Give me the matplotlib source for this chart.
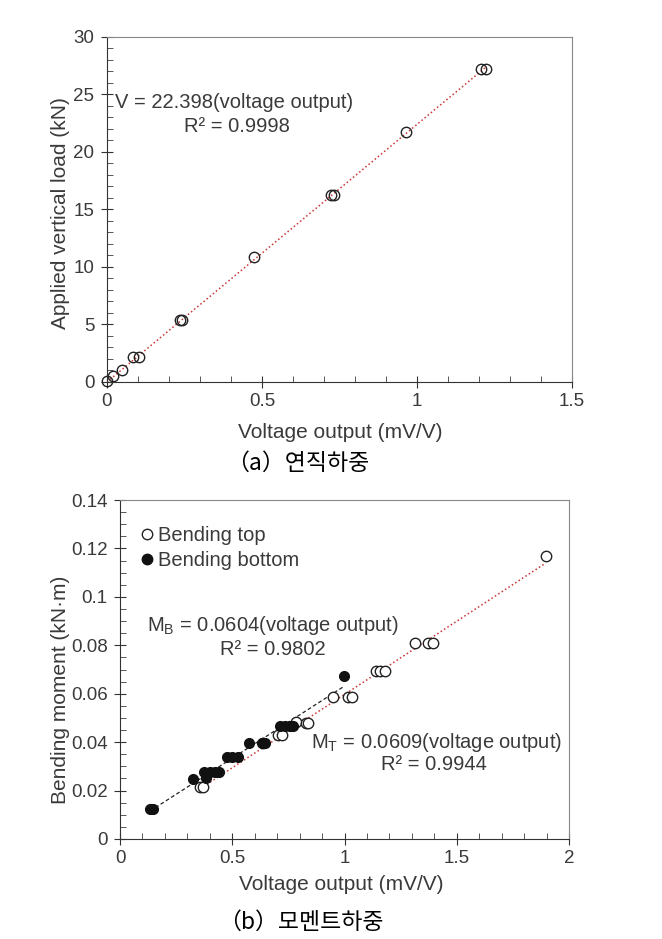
import numpy as np
import matplotlib
matplotlib.use("Agg")
import matplotlib.pyplot as plt
from matplotlib.lines import Line2D
from matplotlib.ticker import MultipleLocator

plt.rcParams['font.family'] = ['Liberation Sans', 'DejaVu Sans']
plt.rcParams['mathtext.fontset'] = 'custom'
plt.rcParams['mathtext.rm'] = 'Liberation Sans'
plt.rcParams['mathtext.it'] = 'Liberation Sans'

# (a) vertical load calibration
v_volt = [0.0, 0.019, 0.05, 0.084, 0.102, 0.235, 0.243, 0.475, 0.722, 0.733, 0.964, 1.207, 1.222]
v_load = [0.06, 0.49, 1.07, 2.14, 2.14, 5.35, 5.35, 10.85, 16.3, 16.3, 21.75, 27.2, 27.2]
v_slope = 22.398

# (b) bending moment calibration
top_volt = [0.356, 0.368, 0.636, 0.702, 0.723, 0.786, 0.828, 0.838, 0.95, 1.016, 1.034,
            1.139, 1.157, 1.18, 1.315, 1.372, 1.395, 1.896]
top_mom = [0.0216, 0.0216, 0.0396, 0.0428, 0.0428, 0.0482, 0.0479, 0.0479, 0.0586, 0.0586, 0.0586,
           0.0694, 0.0694, 0.0694, 0.0808, 0.0808, 0.0808, 0.1169]
bot_volt = [0.134, 0.148, 0.326, 0.374, 0.383, 0.40, 0.423, 0.442, 0.475, 0.497, 0.527,
            0.576, 0.631, 0.648, 0.712, 0.734, 0.757, 0.772, 0.9985]
bot_mom = [0.0123, 0.0123, 0.0246, 0.0278, 0.025, 0.0278, 0.0278, 0.0278, 0.034, 0.034, 0.034,
           0.0398, 0.0398, 0.0398, 0.0468, 0.0468, 0.0468, 0.0468, 0.0673]

txt = '#3a3a3a'
fs_tick = 13.5
fs_lab = 15
fs_eq = 14.5
kr = ['Noto Sans CJK KR', 'DejaVu Sans']
fig = plt.figure(figsize=(6.62, 9.39), dpi=100)


def style(ax):
    for s in ['left', 'bottom']:
        ax.spines[s].set_color('#333333')
    for s in ['top', 'right']:
        ax.spines[s].set_color('#888888')
    ax.tick_params(which='major', direction='inout', length=8, width=0.8,
                   color='#333333', labelcolor=txt, labelsize=fs_tick, top=False, right=False)
    ax.tick_params(which='minor', direction='in', length=4, width=0.7,
                   color='#555555', top=False, right=False)
    ax.tick_params(axis='y', pad=5)
    ax.tick_params(axis='x', pad=4)


# ---- top panel ----
ax1 = fig.add_axes([0.1616, 0.5932, 0.7024, 0.3674])
xx = np.array([0, max(v_volt)])
ax1.plot(xx, v_slope * xx, ls=':', color='#cc3333', lw=1.1, zorder=1)
ax1.plot(v_volt, v_load, 'o', mfc='none', mec='#222222', ms=7.5, mew=1.0, zorder=2,
         clip_on=False)
ax1.set_xlim(0, 1.5)
ax1.set_ylim(0, 30)
ax1.xaxis.set_major_locator(MultipleLocator(0.5))
ax1.xaxis.set_minor_locator(MultipleLocator(0.1))
ax1.yaxis.set_major_locator(MultipleLocator(5))
ax1.yaxis.set_minor_locator(MultipleLocator(1))
ax1.xaxis.set_major_formatter(plt.FuncFormatter(lambda v, p: f'{v:g}'))
style(ax1)
ax1.set_ylabel('Applied vertical load (kN)', fontsize=fs_lab, color=txt)
ax1.yaxis.set_label_coords(-0.08, 0.49)
ax1.text(0.017, 0.81, 'V = 22.398(voltage output)', transform=ax1.transAxes,
         fontsize=fs_eq, color=txt, va='center', ha='left')
ax1.text(0.28, 0.74, 'R² = 0.9998', transform=ax1.transAxes,
         fontsize=fs_eq, color=txt, va='center', ha='center')
fig.text(0.514, 1 - 432 / 939, 'Voltage output (mV/V)', fontsize=fs_lab, color=txt,
         ha='center', va='center')
fig.text(0.449, 1 - 463 / 939, '（a）연직하중', fontsize=16.5, color='black',
         ha='center', va='center', family=kr)

# ---- bottom panel ----
ax2 = fig.add_axes([0.1813, 0.1065, 0.6782, 0.3610])
pt = np.polyfit(top_volt, top_mom, 1)
pb = np.polyfit(bot_volt, bot_mom, 1)
xt = np.array([min(top_volt), max(top_volt)])
xb = np.array([min(bot_volt), max(bot_volt)])
ax2.plot(xt, np.polyval(pt, xt), ls=':', color='#cc3333', lw=1.1, zorder=1)
ax2.plot(xb, np.polyval(pb, xb), ls='--', color='#222222', lw=0.9, dashes=(3, 2), zorder=1)
ax2.plot(top_volt, top_mom, 'o', mfc='white', mec='#222222', ms=7.5, mew=1.0, zorder=2)
ax2.plot(bot_volt, bot_mom, 'o', mfc='#111111', mec='#111111', ms=7, zorder=3)
ax2.set_xlim(0, 2)
ax2.set_ylim(0, 0.14)
ax2.xaxis.set_major_locator(MultipleLocator(0.5))
ax2.xaxis.set_minor_locator(MultipleLocator(0.1))
ax2.yaxis.set_major_locator(MultipleLocator(0.02))
ax2.yaxis.set_minor_locator(MultipleLocator(0.005))
ax2.xaxis.set_major_formatter(plt.FuncFormatter(lambda v, p: f'{v:g}'))
ax2.yaxis.set_major_formatter(plt.FuncFormatter(lambda v, p: f'{v:g}'))
style(ax2)
ax2.set_ylabel('Bending moment (kN·m)', fontsize=fs_lab, color=txt)
ax2.yaxis.set_label_coords(-0.111, 0.44)
handles = [Line2D([], [], ls='none', marker='o', mfc='white', mec='#222222', ms=7.5, mew=1.0),
           Line2D([], [], ls='none', marker='o', mfc='#111111', mec='#111111', ms=7.5)]
ax2.legend(handles, ['Bending top', 'Bending bottom'], loc='upper left',
           bbox_to_anchor=(0.015, 0.965), frameon=False, fontsize=fs_eq,
           handlelength=0.6, handletextpad=0.25, labelspacing=0.3, borderaxespad=0.3,
           labelcolor=txt)
ax2.text(0.06, 0.63, 'M$_\\mathrm{B}$ = 0.0604(voltage output)', transform=ax2.transAxes,
         fontsize=fs_eq, color=txt, va='center', ha='left')
ax2.text(0.34, 0.56, 'R² = 0.9802', transform=ax2.transAxes,
         fontsize=fs_eq, color=txt, va='center', ha='center')
ax2.text(0.425, 0.285, 'M$_\\mathrm{T}$ = 0.0609(voltage output)', transform=ax2.transAxes,
         fontsize=fs_eq, color=txt, va='center', ha='left')
ax2.text(0.70, 0.22, 'R² = 0.9944', transform=ax2.transAxes,
         fontsize=fs_eq, color=txt, va='center', ha='center')
fig.text(0.516, 1 - 885 / 939, 'Voltage output (mV/V)', fontsize=fs_lab, color=txt,
         ha='center', va='center')
fig.text(0.455, 1 - 922 / 939, '（b）모멘트하중', fontsize=16.5, color='black',
         ha='center', va='center', family=kr)

fig.savefig('out.png', dpi=100)
